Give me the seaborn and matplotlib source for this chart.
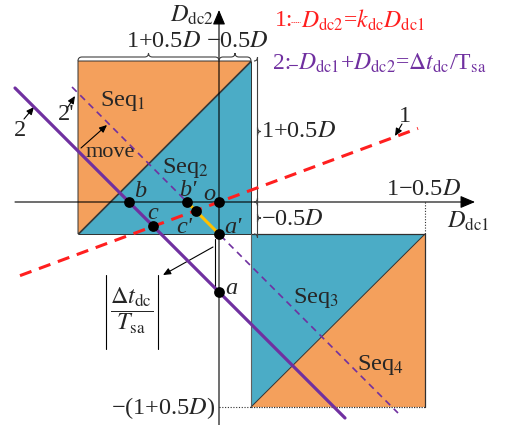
import numpy as np
import pandas as pd
import matplotlib
matplotlib.use("Agg")
import matplotlib.pyplot as plt
from matplotlib.path import Path
from matplotlib.patches import PathPatch, Polygon
import seaborn as sns

sns.set_style("white")
plt.rcParams["font.family"] = ["Liberation Serif", "DejaVu Serif"]
plt.rcParams["mathtext.fontset"] = "stix"

# ---- operating regions on the (D_dc1, D_dc2) plane ----
upper_x = [-1.41, 0.32]
upper_y = [-0.32, 1.41]
lower_x = [0.32, 2.06]
lower_y = [-2.05, -0.32]
seq_labels = ["Seq$_1$", "Seq$_2$", "Seq$_3$", "Seq$_4$"]
seq_label_x = [-0.96, -0.34, 0.97, 1.61]
seq_label_y = [1.01, 0.34, -0.96, -1.63]

# ---- line 1: D_dc2 = k_dc * D_dc1 ----
k_dc = 0.37
line1_x = [-1.99, 1.99]

# ---- line 2 (solid) and its shifted copy 2' (dashed) ----
line2_c = -0.90
line2_x = [-2.04, 1.26]
line2p_c = -0.32
line2p_x = [-1.47, 1.79]

# ---- marked points ----
point_names = ["o", "a", "a'", "b", "b'", "c", "c'"]
point_x = [0.0, 0.0, 0.0, line2_c, line2p_c,
           line2_c / (1 + k_dc), line2p_c / (1 + k_dc)]
point_y = [0.0, line2_c, line2p_c, 0.0, 0.0,
           k_dc * line2_c / (1 + k_dc), k_dc * line2p_c / (1 + k_dc)]
point_label_x = [-0.10, 0.12, 0.14, -0.79, -0.31, -0.66, -0.35]
point_label_y = [0.08, -0.86, -0.25, 0.11, 0.12, -0.11, -0.25]

ORANGE = "#F4A05C"
BLUE = "#4BACC6"
PURPLE = "#7030A0"
RED = "#FF1F1F"
GOLD = "#FFC000"
FS = 17.5

fig = plt.figure(figsize=(5.06, 4.25), dpi=100)
ax = fig.add_axes([0, 0, 1, 1])
ax.set_xlim(-2.19, 2.87)
ax.set_ylim(-2.23, 2.02)
ax.set_aspect("equal")
ax.axis("off")

# squares split along their diagonals
x0, x1 = upper_x
y0, y1 = upper_y
ax.add_patch(Polygon([(x0, y1), (x1, y1), (x0, y0)], closed=True,
                     fc=ORANGE, ec="#303030", lw=0.7, zorder=1))
ax.add_patch(Polygon([(x1, y1), (x1, y0), (x0, y0)], closed=True,
                     fc=BLUE, ec="#303030", lw=0.7, zorder=1))
x0, x1 = lower_x
y0, y1 = lower_y
ax.add_patch(Polygon([(x0, y1), (x1, y1), (x0, y0)], closed=True,
                     fc=BLUE, ec="none", zorder=1))
ax.add_patch(Polygon([(x1, y1), (x1, y0), (x0, y0)], closed=True,
                     fc=ORANGE, ec="none", zorder=1))
ax.plot([x0, x1], [y0, y1], color="#303030", lw=0.7, zorder=2)
ax.plot([x0, x1], [y1, y1], color="#303030", lw=0.9, zorder=2)
ax.plot([x1, x1], [y1, y0], color="#303030", lw=0.9, zorder=2)
ax.plot([x0, x0], [y1, y0], color="#606060", lw=0.8, zorder=2)
ax.plot([x0, x1], [y0, y0], color="#303030", lw=0.9, ls=(0, (1, 1)), zorder=2)

# dotted guides for the extreme values
ax.plot([0, lower_x[0]], [lower_y[0], lower_y[0]], color="#303030", lw=0.8,
        ls=(0, (1, 1.5)), zorder=2)
ax.plot([lower_x[1], lower_x[1]], [0, lower_y[1]], color="#303030", lw=0.8,
        ls=(0, (1, 1.5)), zorder=2)

# axes with arrow heads
arrow_kw = dict(arrowstyle="-|>,head_length=0.9,head_width=0.38", color="black",
                lw=0.8, shrinkA=0, shrinkB=0)
ax.annotate("", xy=(2.56, 0), xytext=(-2.04, 0), arrowprops=arrow_kw, zorder=3)
ax.annotate("", xy=(0, 1.92), xytext=(0, -2.25), arrowprops=arrow_kw, zorder=3)

# lines 1, 2, 2'
lx = np.array(line1_x)
ax.plot(lx, k_dc * lx, color=RED, lw=2.2, ls=(0, (4, 2.6)), zorder=4)
lx = np.array(line2_x)
ax.plot(lx, -lx + line2_c, color=PURPLE, lw=2.3, zorder=4)
lx = np.array(line2p_x)
ax.plot(lx, -lx + line2p_c, color=PURPLE, lw=1.2, ls=(0, (4, 3)), zorder=4)
ax.plot([line2p_c, 0], [0, line2p_c], color=GOLD, lw=2.2, zorder=5)

# distance marker between a' and a
ax.plot([-0.04, -0.04], [line2p_c - 0.05, line2_c], color="black", lw=0.8, zorder=3)

pts = pd.DataFrame({"x": point_x, "y": point_y, "name": point_names})
sns.scatterplot(data=pts, x="x", y="y", ax=ax, s=60, color="black",
                edgecolor="black", linewidth=0, zorder=6, legend=False)
for name, tx, ty in zip(point_names, point_label_x, point_label_y):
    ax.text(tx, ty, name, fontsize=FS, style="italic", ha="center", va="center", zorder=7)


def brace(x_start, x_end, base, height, vertical=False, q=0.04):
    """Curly brace between x_start and x_end whose tip points away from base."""
    m = 0.5 * (x_start + x_end)
    h2 = base + height / 2
    tip = base + height
    pts_ = [(x_start, base), (x_start, h2), (x_start + q, h2), (m - q, h2),
            (m, h2), (m, tip), (m, h2), (m + q, h2), (x_end - q, h2),
            (x_end, h2), (x_end, base)]
    codes = [Path.MOVETO, Path.CURVE3, Path.CURVE3, Path.LINETO,
             Path.CURVE3, Path.CURVE3, Path.CURVE3, Path.CURVE3, Path.LINETO,
             Path.CURVE3, Path.CURVE3]
    if vertical:
        pts_ = [(p[1], p[0]) for p in pts_]
    ax.add_patch(PathPatch(Path(pts_, codes), fc="none", ec="#404040", lw=0.8, zorder=3))


brace(upper_x[0], 0, upper_y[1], 0.08)
brace(0, upper_x[1], upper_y[1], 0.08)
brace(upper_y[1], 0, upper_x[1] + 0.03, 0.07, vertical=True)
brace(0, upper_y[0], upper_x[1] + 0.03, 0.07, vertical=True)

# region labels
for lab, tx, ty in zip(seq_labels, seq_label_x, seq_label_y):
    ax.text(tx, ty, lab, fontsize=FS, ha="center", va="center", zorder=7)

# dimension labels
ax.text(-0.55, 1.61, "1+0.5$D$", fontsize=FS, ha="center", va="center")
ax.text(-0.13, 1.61, "−0.5$D$", fontsize=FS, ha="left", va="center")
ax.text(0.42, 0.71, "1+0.5$D$", fontsize=FS, ha="left", va="center")
ax.text(0.42, -0.17, "−0.5$D$", fontsize=FS, ha="left", va="center")
ax.text(2.05, 0.13, "1−0.5$D$", fontsize=FS, ha="center", va="center")
ax.text(-0.04, -2.06, "−(1+0.5$D$)", fontsize=FS, ha="right", va="center")
ax.text(-0.05, 1.87, r"$D_{\rm dc2}$", fontsize=FS, ha="right", va="center")
ax.text(2.49, -0.19, r"$D_{\rm dc1}$", fontsize=FS, ha="center", va="center")

# |Δt_dc / T_sa|
ax.text(-0.87, -1.09, r"$\dfrac{\Delta t_{\rm dc}}{T_{\rm sa}}$", fontsize=FS,
        ha="center", va="center")
ax.plot([-1.13, -1.13], [-0.73, -1.47], color="black", lw=0.8)
ax.plot([-0.61, -0.61], [-0.73, -1.47], color="black", lw=0.8)

# line tags and the move annotation
small_arrow = dict(arrowstyle="-|>,head_length=0.45,head_width=0.2", color="black",
                   lw=0.8, shrinkA=0, shrinkB=0)
ax.text(-1.99, 0.72, "2", fontsize=FS, ha="center", va="center")
ax.annotate("", xy=(-1.85, 0.95), xytext=(-1.95, 0.83), arrowprops=small_arrow)
ax.text(-1.53, 0.88, "2'", fontsize=FS, ha="center", va="center")
ax.annotate("", xy=(-1.44, 1.06), xytext=(-1.51, 0.95), arrowprops=small_arrow)
ax.text(1.86, 0.86, "1", fontsize=FS, ha="center", va="center")
ax.annotate("", xy=(1.76, 0.66), xytext=(1.83, 0.78), arrowprops=small_arrow)
ax.text(-1.09, 0.50, "move", fontsize=FS - 1.5, ha="center", va="center")
ax.annotate("", xy=(-1.12, 0.77), xytext=(-1.38, 0.54), arrowprops=small_arrow)
ax.annotate("", xy=(-0.56, -0.73), xytext=(-0.06, -0.45), arrowprops=small_arrow)

# equation key
ax.text(0.56, 1.82, "1:", fontsize=FS - 0.5, color=RED, ha="left", va="center")
ax.plot([0.72, 0.81], [1.80, 1.80], color=RED, lw=0.6, ls=(0, (1.5, 1)))
ax.text(0.82, 1.82, r"$D_{\rm dc2}$=$k_{\rm dc}D_{\rm dc1}$", fontsize=FS - 0.5,
        color=RED, ha="left", va="center")
ax.text(0.54, 1.39, "2:", fontsize=FS - 0.5, color=PURPLE, ha="left", va="center")
ax.plot([0.70, 0.78], [1.37, 1.37], color=PURPLE, lw=0.8)
ax.text(0.79, 1.39, r"$D_{\rm dc1}$+$D_{\rm dc2}$=$\Delta t_{\rm dc}$/T$_{\rm sa}$",
        fontsize=FS - 0.5, color=PURPLE, ha="left", va="center")

fig.savefig("out.png", dpi=100)
